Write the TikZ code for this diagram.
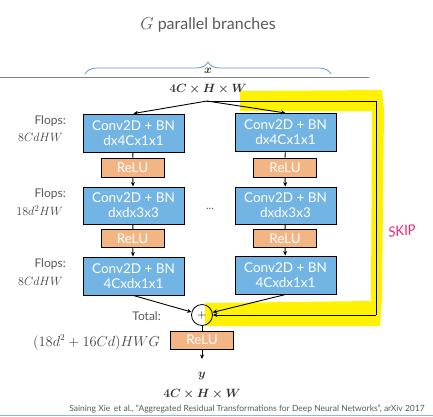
\documentclass[tikz,border=0pt]{standalone}
\usepackage{fontspec}
\usepackage{amsmath,bm}
\setmainfont{Lato}
\usetikzlibrary{arrows.meta,decorations.pathreplacing}
\definecolor{boxblue}{RGB}{114,180,227}
\definecolor{reluor}{RGB}{244,181,133}
\definecolor{txtgray}{RGB}{89,89,89}
\definecolor{braceblue}{RGB}{91,155,213}
\definecolor{skippink}{RGB}{255,30,110}
\begin{document}
\begin{tikzpicture}[x=1pt,y=-1pt,
  convbox/.style={draw=black,line width=1pt,fill=boxblue,text=white,minimum width=101pt,minimum height=38pt,inner sep=0pt,align=center,font=\fontsize{13.5}{15}\selectfont},
  relubox/.style={draw=black,line width=0.8pt,fill=reluor,text=white,minimum width=63pt,minimum height=19pt,inner sep=0pt,font=\fontsize{13.5}{14}\selectfont},
  conn/.style={draw=black,line width=0.9pt},
  arr/.style={conn,-{Stealth[length=4.5pt,width=4pt]}},
  flops/.style={anchor=east,text=txtgray,font=\fontsize{12}{13}\selectfont,inner sep=0pt},
  mflops/.style={anchor=east,text=black!75,font=\fontsize{12.5}{13}\selectfont,inner sep=0pt},
  mathlbl/.style={text=black!80,inner sep=0pt,font=\fontsize{12}{13}\selectfont}
]
\useasboundingbox (0,0) rectangle (433,416);
% yellow highlight
\fill[yellow] (240,91) -- (382,90) -- (384,110) -- (382,300) -- (380,326) -- (205,326) -- (205,303) -- (371,301) -- (372,111) -- (240,111) -- cycle;
% header
\node[text=txtgray,font=\fontsize{16}{18}\selectfont] (title) at (208,25) {$G$ parallel branches};
\draw[braceblue,line width=0.8pt,decorate,decoration={brace,amplitude=12pt}] (85,74) -- (331,74);
\draw[gray,line width=0.8pt] (0,77.5) -- (369,77.5);
\node[mathlbl] (xin) at (208,70.5) {$\bm{x}$};
\node[mathlbl] (xdim) at (208,89) {$\bm{4C\times H\times W}$};
\coordinate (fork) at (207,101);
% left column
\node[convbox] (b1L) at (133.5,133) {Conv2D + BN\\dx4Cx1x1};
\node[relubox] (r1L) at (132.5,167.5) {ReLU};
\node[convbox,minimum height=37pt] (b2L) at (133.5,205.5) {Conv2D + BN\\dxdx3x3};
\node[relubox,minimum height=18pt] (r2L) at (132.5,238.5) {ReLU};
\node[convbox] (b3L) at (133.5,276) {Conv2D + BN\\4Cxdx1x1};
% right column
\node[convbox] (b1R) at (285.5,132.5) {Conv2D + BN\\dx4Cx1x1};
\node[relubox] (r1R) at (285,167.5) {ReLU};
\node[convbox,minimum height=37pt] (b2R) at (285.5,205.5) {Conv2D + BN\\dxdx3x3};
\node[relubox,minimum height=18pt] (r2R) at (285,238.5) {ReLU};
\node[convbox] (b3R) at (285.5,275) {Conv2D + BN\\4Cxdx1x1};
\node[text=txtgray,font=\fontsize{11}{12}\selectfont] (dots) at (210,209) {...};
% sum and output
\node[draw=black,circle,line width=0.8pt,minimum size=21pt,inner sep=0pt,font=\fontsize{13}{13}\selectfont] (plus) at (202,315) {$+$};
\node[relubox,minimum height=18pt] (rout) at (202,340) {ReLU};
\coordinate (yend) at (202,359);
\node[mathlbl] (yout) at (202,376) {$\bm{y}$};
\node[mathlbl] (ydim) at (202,394) {$\bm{4C\times H\times W}$};
% connectors
\draw[arr] (fork) -- (b1L.north);
\draw[arr] (fork) -- (b1R.north);
\foreach \c in {L,R}{
  \draw[conn] (b1\c) -- (r1\c);
  \draw[arr] (r1\c) -- (b2\c);
  \draw[conn] (b2\c) -- (r2\c);
  \draw[arr] (r2\c) -- (b3\c);
}
\draw[arr] (b3L.south) -- (plus);
\draw[arr] (b3R.south) -- (plus);
\coordinate (sk1) at (376,101);
\coordinate (sk2) at (376,315);
\draw[conn] (fork) -- (sk1) -- (sk2);
\draw[arr] (sk2) -- (plus.east);
\draw[conn] (plus) -- (rout);
\draw[arr] (rout) -- (yend);
% labels
\node[flops] (f1a) at (66,121) {Flops:};
\node[mflops] (f1b) at (63,137.5) {$8CdHW$};
\node[flops] (f2a) at (66,194) {Flops:};
\node[mflops] (f2b) at (63,210.5) {$18d^2HW$};
\node[flops] (f3a) at (66,264.5) {Flops:};
\node[mflops] (f3b) at (63,281.5) {$8CdHW$};
\node[flops] (tot) at (161,316) {Total:};
\node[mflops,font=\fontsize{13.5}{14}\selectfont] (totv) at (160,342.5) {$(18d^2+16Cd)HWG$};
\node[text=skippink,rotate=8,font=\fontsize{14}{14}\selectfont\itshape] (skip) at (402,231) {SKIP};
\node[text=txtgray,font=\fontsize{8.5}{9}\selectfont] (cite) at (247,409.5) {Saining Xie\, et al., “Aggregated Residual Transformations for Deep Neural Networks”, arXiv 2017};
\draw[braceblue!70,line width=1pt] (0,415.5) -- (433,415.5);
\end{tikzpicture}
\end{document}
